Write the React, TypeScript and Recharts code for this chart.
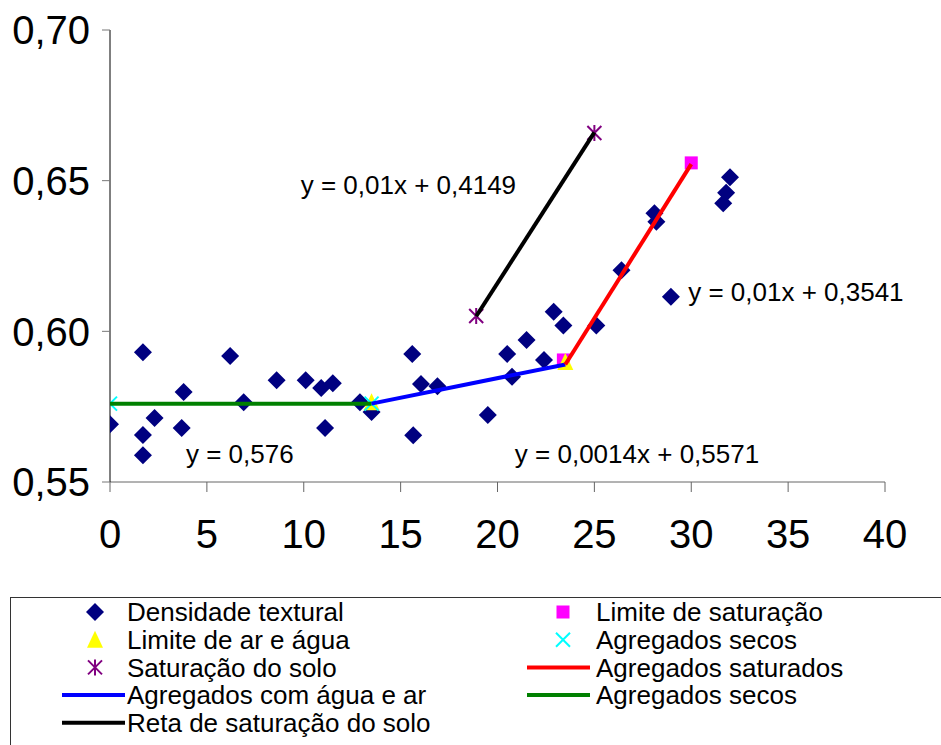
import React from "react";
import {
  ComposedChart,
  Scatter,
  XAxis,
  YAxis,
  ReferenceDot,
} from "recharts";

// values (x = umidade %, y = densidade)
const densidade = [
  { x: 0, y: 0.5692 }, { x: 1.7, y: 0.5931 }, { x: 1.7, y: 0.5656 },
  { x: 1.7, y: 0.5589 }, { x: 2.3, y: 0.5712 }, { x: 3.8, y: 0.5799 },
  { x: 3.7, y: 0.5679 }, { x: 6.2, y: 0.5918 }, { x: 6.9, y: 0.5765 },
  { x: 8.6, y: 0.5838 }, { x: 10.1, y: 0.5838 }, { x: 10.9, y: 0.5812 },
  { x: 11.5, y: 0.5828 }, { x: 11.1, y: 0.5679 }, { x: 12.9, y: 0.5765 },
  { x: 13.5, y: 0.5732 }, { x: 15.6, y: 0.5925 }, { x: 16.05, y: 0.5825 },
  { x: 16.9, y: 0.5818 }, { x: 15.65, y: 0.5655 }, { x: 19.5, y: 0.5722 },
  { x: 20.5, y: 0.5925 }, { x: 20.75, y: 0.5849 }, { x: 21.5, y: 0.5971 },
  { x: 22.4, y: 0.5905 }, { x: 22.9, y: 0.6065 }, { x: 23.4, y: 0.6019 },
  { x: 25.1, y: 0.6019 }, { x: 26.4, y: 0.6203 }, { x: 28.1, y: 0.6392 },
  { x: 28.2, y: 0.6364 }, { x: 28.95, y: 0.6115 }, { x: 32.0, y: 0.6511 },
  { x: 31.8, y: 0.646 }, { x: 31.65, y: 0.6425 },
];
const limiteSaturacao = [{ x: 23.4, y: 0.5905 }, { x: 30, y: 0.6559 }];
const limiteArAgua = [{ x: 13.5, y: 0.5765 }, { x: 23.5, y: 0.5898 }];
const agregadosSecosPts = [{ x: 0, y: 0.576 }, { x: 13.5, y: 0.576 }];
const saturacaoSolo = [{ x: 18.9, y: 0.6051 }, { x: 25.0, y: 0.6658 }];

const retaSecos = [{ x: 0, y: 0.576 }, { x: 13.5, y: 0.576 }];
const retaAguaAr = [{ x: 13.5, y: 0.576 }, { x: 23.5, y: 0.589 }];
const retaSaturados = [{ x: 23.5, y: 0.589 }, { x: 30, y: 0.6555 }];
const retaSaturacao = [{ x: 18.9, y: 0.605 }, { x: 25.0, y: 0.666 }];

const xTicks = [0, 5, 10, 15, 20, 25, 30, 35, 40];
const yTicks = [0.55, 0.6, 0.65, 0.7];

const equations = [
  { x: 15.4, y: 0.6485, text: "y = 0,01x + 0,4149" },
  { x: 35.4, y: 0.6130, text: "y = 0,01x + 0,3541" },
  { x: 6.7, y: 0.5595, text: "y = 0,576" },
  { x: 27.2, y: 0.5595, text: "y = 0,0014x + 0,5571" },
];

const FONT = "'Liberation Sans', Arial, sans-serif";
const fmt = (v: number) => v.toFixed(2).replace(".", ",");

const Diamond = ({ cx, cy }: any) => (
  <path d={`M${cx},${cy - 9} L${cx + 9},${cy} L${cx},${cy + 9} L${cx - 9},${cy} Z`} fill="#000080" />
);
const Square = ({ cx, cy }: any) => (
  <rect x={cx - 6.5} y={cy - 6.5} width={13} height={13} fill="#FF00FF" />
);
const Triangle = ({ cx, cy }: any) => (
  <path d={`M${cx},${cy - 9} L${cx + 8},${cy + 8} L${cx - 8},${cy + 8} Z`} fill="#FFFF00" />
);
const Cross = ({ cx, cy }: any) => (
  <path d={`M${cx - 7},${cy - 7} L${cx + 7},${cy + 7} M${cx + 7},${cy - 7} L${cx - 7},${cy + 7}`} stroke="#00FFFF" strokeWidth={2} />
);
const Star = ({ cx, cy }: any) => (
  <path
    d={`M${cx - 7},${cy - 7} L${cx + 7},${cy + 7} M${cx + 7},${cy - 7} L${cx - 7},${cy + 7} M${cx},${cy - 8} L${cx},${cy + 8}`}
    stroke="#800080"
    strokeWidth={2}
  />
);
const NoDot = () => <g />;

function LegendBox() {
  const row = (i: number) => 612 + i * 27.7;
  const left = [
    { kind: "diamond", label: "Densidade textural" },
    { kind: "tri", label: "Limite de ar e água" },
    { kind: "star", label: "Saturação do solo" },
    { kind: "line", color: "#0000FF", label: "Agregados com água e ar" },
    { kind: "line", color: "#000000", label: "Reta de saturação do solo" },
  ];
  const right = [
    { kind: "square", label: "Limite de saturação" },
    { kind: "cross", label: "Agregados secos" },
    { kind: "line", color: "#FF0000", label: "Agregados saturados" },
    { kind: "line", color: "#008000", label: "Agregados secos" },
  ];
  const sym = (kind: string, cx: number, cy: number, color?: string, lx?: number) => {
    if (kind === "diamond") return <Diamond cx={cx} cy={cy} />;
    if (kind === "tri") return <Triangle cx={cx} cy={cy} />;
    if (kind === "star") return <Star cx={cx} cy={cy} />;
    if (kind === "square") return <Square cx={cx} cy={cy} />;
    if (kind === "cross") return <Cross cx={cx} cy={cy} />;
    return <line x1={lx} x2={(lx ?? 0) + 63} y1={cy} y2={cy} stroke={color} strokeWidth={4} />;
  };
  return (
    <g fontFamily={FONT} fontSize={26} fill="#000">
      <rect x={10.5} y={597.5} width={940} height={160} fill="none" stroke="#333" strokeWidth={1} />
      {left.map((it, i) => (
        <g key={"l" + i}>
          {sym(it.kind, 95, row(i), (it as any).color, 62)}
          <text x={127} y={row(i)} dy="0.36em">{it.label}</text>
        </g>
      ))}
      {right.map((it, i) => (
        <g key={"r" + i}>
          {sym(it.kind, 563, row(i), (it as any).color, 527)}
          <text x={596} y={row(i)} dy="0.36em">{it.label}</text>
        </g>
      ))}
    </g>
  );
}

export default function App() {
  return (
    <div style={{ position: "absolute", left: 0, top: 0, width: 941, height: 745, background: "#fff" }}>
      <ComposedChart
        width={941}
        height={745}
        margin={{ top: 30, right: 56, left: 0, bottom: 203 }}
        style={{ fontFamily: FONT }}
      >
        <XAxis
          type="number"
          dataKey="x"
          domain={[0, 40]}
          ticks={xTicks}
          allowDataOverflow
          stroke="#666"
          tickSize={10}
          tickMargin={28}
          height={60}
          tick={{ fontSize: 40, fill: "#000", fontFamily: FONT }}
        />
        <YAxis
          type="number"
          dataKey="y"
          domain={[0.55, 0.7]}
          ticks={yTicks}
          allowDataOverflow
          width={110}
          axisLine={{ stroke: "#000" }}
          tickLine={{ stroke: "#777" }}
          tickSize={8}
          tickMargin={12}
          tickFormatter={fmt}
          tick={{ fontSize: 40, fill: "#000", fontFamily: FONT }}
        />
        <Scatter data={densidade} shape={<Diamond />} isAnimationActive={false} />
        <Scatter data={limiteSaturacao} shape={<Square />} isAnimationActive={false} />
        <Scatter data={limiteArAgua} shape={<Triangle />} isAnimationActive={false} />
        <Scatter data={agregadosSecosPts} shape={<Cross />} isAnimationActive={false} />
        <Scatter data={saturacaoSolo} shape={<Star />} isAnimationActive={false} />
        <Scatter data={retaSecos} line={{ stroke: "#008000", strokeWidth: 4 }} shape={<NoDot />} isAnimationActive={false} />
        <Scatter data={retaAguaAr} line={{ stroke: "#0000FF", strokeWidth: 4 }} shape={<NoDot />} isAnimationActive={false} />
        <Scatter data={retaSaturados} line={{ stroke: "#FF0000", strokeWidth: 4 }} shape={<NoDot />} isAnimationActive={false} />
        <Scatter data={retaSaturacao} line={{ stroke: "#000000", strokeWidth: 4 }} shape={<NoDot />} isAnimationActive={false} />
        {equations.map((e) => (
          <ReferenceDot
            key={e.text}
            x={e.x}
            y={e.y}
            r={0}
            ifOverflow="visible"
            label={{ value: e.text, position: "center", fontSize: 26, fill: "#000", fontFamily: FONT }}
          />
        ))}
        <LegendBox />
      </ComposedChart>
    </div>
  );
}
